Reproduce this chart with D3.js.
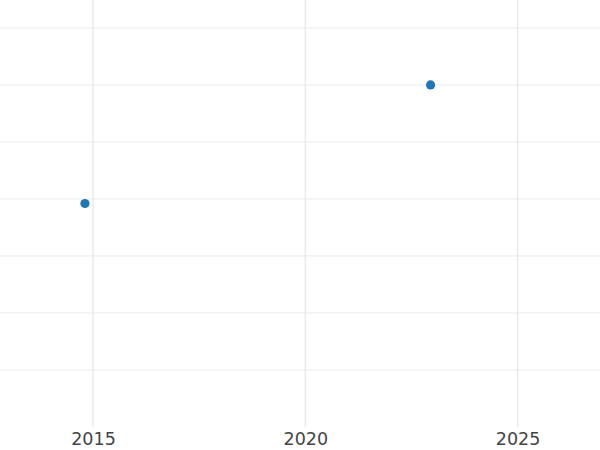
<!DOCTYPE html>
<html><head><meta charset="utf-8">
<script src="https://cdn.jsdelivr.net/npm/d3@7"></script>
<style>body{margin:0;background:#fff}svg{display:block}</style>
</head><body>
<div id="chart"></div>
<script>
const years = [2014.81, 2022.95];
const values = [3.92, 6.0];
const xTicks = [2015, 2020, 2025];
const yTicks = [1, 2, 3, 4, 5, 6, 7];

const W = 600, H = 450;
const plotBottom = 427;
const svg = d3.select("#chart").append("svg").attr("width", W).attr("height", H);
const x = d3.scaleLinear().domain([2012.81, 2026.94]).range([0, W]);
const y = d3.scaleLinear().domain([0, 7.49]).range([plotBottom, 0]);

svg.append("g").selectAll("line").data(yTicks).join("line")
  .attr("x1", 0).attr("x2", W)
  .attr("y1", d => y(d)).attr("y2", d => y(d))
  .attr("stroke", "#ebebeb").attr("stroke-width", 1);

svg.append("g").selectAll("line").data(xTicks).join("line")
  .attr("x1", d => x(d)).attr("x2", d => x(d))
  .attr("y1", 0).attr("y2", plotBottom)
  .attr("stroke", "#e8e8e8").attr("stroke-width", 1.3);

const xAxis = d3.axisBottom(x).tickValues(xTicks).tickFormat(d3.format("d")).tickSize(0).tickPadding(6);
const ax = svg.append("g").attr("transform", `translate(0,${plotBottom})`).call(xAxis);
ax.select(".domain").remove();
ax.selectAll("text").attr("fill", "#444").style("font-family", "DejaVu Sans").style("font-size", "17.5px");

svg.append("g").selectAll("circle").data(years.map((yr, i) => ({yr, v: values[i]}))).join("circle")
  .attr("cx", d => x(d.yr)).attr("cy", d => y(d.v)).attr("r", 4.6)
  .attr("fill", "#1f77b4");
</script>
</body></html>
